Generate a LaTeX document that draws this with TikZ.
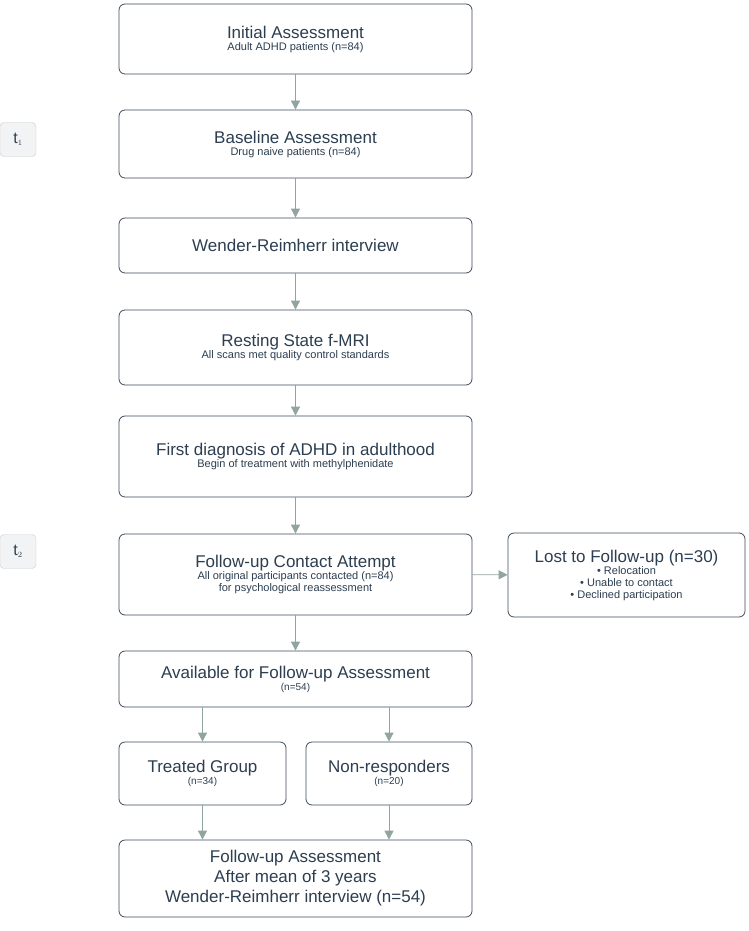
\documentclass[tikz,border=0pt]{standalone}
\usepackage{fontspec}
\setmainfont{Liberation Sans}
\usepackage{xcolor}
\usetikzlibrary{arrows.meta,positioning}
\definecolor{edgec}{HTML}{3E4C5C}
\definecolor{textc}{HTML}{2C3E50}
\definecolor{arrc}{HTML}{90A4A0}
\definecolor{tagc}{HTML}{F1F3F4}

\begin{document}
\begin{tikzpicture}[x=1pt,y=-1pt,
	box/.style={draw=edgec, thick, fill=white, rounded corners=6pt, text=textc, align=center, inner sep=2pt},
	tag/.style={draw=black!20, fill=tagc, rounded corners=4pt, text=textc, minimum width=36pt, minimum height=34pt, font=\fontsize{16}{16}\selectfont},
	big/.style={font=\fontsize{17}{20}\selectfont},
	flow/.style={draw=arrc, thick, -{Triangle[length=9pt,width=9pt]}}]
	\useasboundingbox (0,0) rectangle (749,931);

	% main column
	\node [box, minimum width=353pt, minimum height=70pt] (init) at (295.5,39)
		{{\fontsize{17}{22}\selectfont Initial Assessment}\\{\fontsize{11}{14}\selectfont Adult ADHD patients (n=84)}};
	\node [box, minimum width=353pt, minimum height=68pt] (base) at (295.5,144)
		{{\fontsize{17}{22}\selectfont Baseline Assessment}\\{\fontsize{11}{14}\selectfont Drug naive patients (n=84)}};
	\node [box, minimum width=353pt, minimum height=55pt, big] (wend) at (295.5,245.5)
		{Wender-Reimherr interview};
	\node [box, minimum width=353pt, minimum height=75pt] (mri) at (295.5,347.5)
		{{\fontsize{17}{22}\selectfont Resting State f-MRI}\\{\fontsize{11}{14}\selectfont All scans met quality control standards}};
	\node [box, minimum width=353pt, minimum height=81pt] (diag) at (295.5,456.5)
		{{\fontsize{17}{22}\selectfont First diagnosis of ADHD in adulthood}\\{\fontsize{11}{14}\selectfont Begin of treatment with methylphenidate}};
	\node [box, minimum width=353pt, minimum height=81pt] (contact) at (295.5,574.5)
		{{\fontsize{17}{20}\selectfont Follow-up Contact Attempt}\\{\fontsize{11}{14}\selectfont All original participants contacted (n=84)}\\{\fontsize{11}{14}\selectfont for psychological reassessment}};
	\node [box, minimum width=237pt, minimum height=84pt] (lost) at (626.5,575)
		{{\fontsize{17}{20}\selectfont Lost to Follow-up (n=30)}\\{\fontsize{11}{14}\selectfont • Relocation}\\{\fontsize{11}{14}\selectfont • Unable to contact}\\{\fontsize{11}{14}\selectfont • Declined participation}};
	\node [box, minimum width=353pt, minimum height=56pt] (avail) at (295.5,679)
		{{\fontsize{17}{20}\selectfont Available for Follow-up Assessment}\\{\fontsize{10}{12}\selectfont (n=54)}};
	\node [box, minimum width=167pt, minimum height=63pt] (treat) at (202.5,773.5)
		{{\fontsize{17}{20}\selectfont Treated Group}\\{\fontsize{10}{12}\selectfont (n=34)}};
	\node [box, minimum width=166pt, minimum height=63pt] (nonr) at (389,773.5)
		{{\fontsize{17}{20}\selectfont Non-responders}\\{\fontsize{10}{12}\selectfont (n=20)}};
	\node [box, minimum width=353pt, minimum height=77pt, font=\fontsize{17}{20}\selectfont] (final) at (295.5,878.5)
		{Follow-up Assessment\\After mean of 3 years\\Wender-Reimherr interview (n=54)};

	% time points
	\node [tag] (t1) at (18,139.5) {t$_{\scriptscriptstyle 1}$};
	\node [tag] (t2) at (18,551.5) {t$_{\scriptscriptstyle 2}$};

	% arrows
	\draw [flow] (init) -- (base);
	\draw [flow] (base) -- (wend);
	\draw [flow] (wend) -- (mri);
	\draw [flow] (mri) -- (diag);
	\draw [flow] (diag) -- (contact);
	\draw [flow] (contact) -- (lost);
	\draw [flow] (contact) -- (avail);
	\draw [flow] (avail.south -| treat) -- (treat);
	\draw [flow] (avail.south -| nonr) -- (nonr);
	\draw [flow] (treat) -- (final.north -| treat);
	\draw [flow] (nonr) -- (final.north -| nonr);
\end{tikzpicture}
\end{document}
